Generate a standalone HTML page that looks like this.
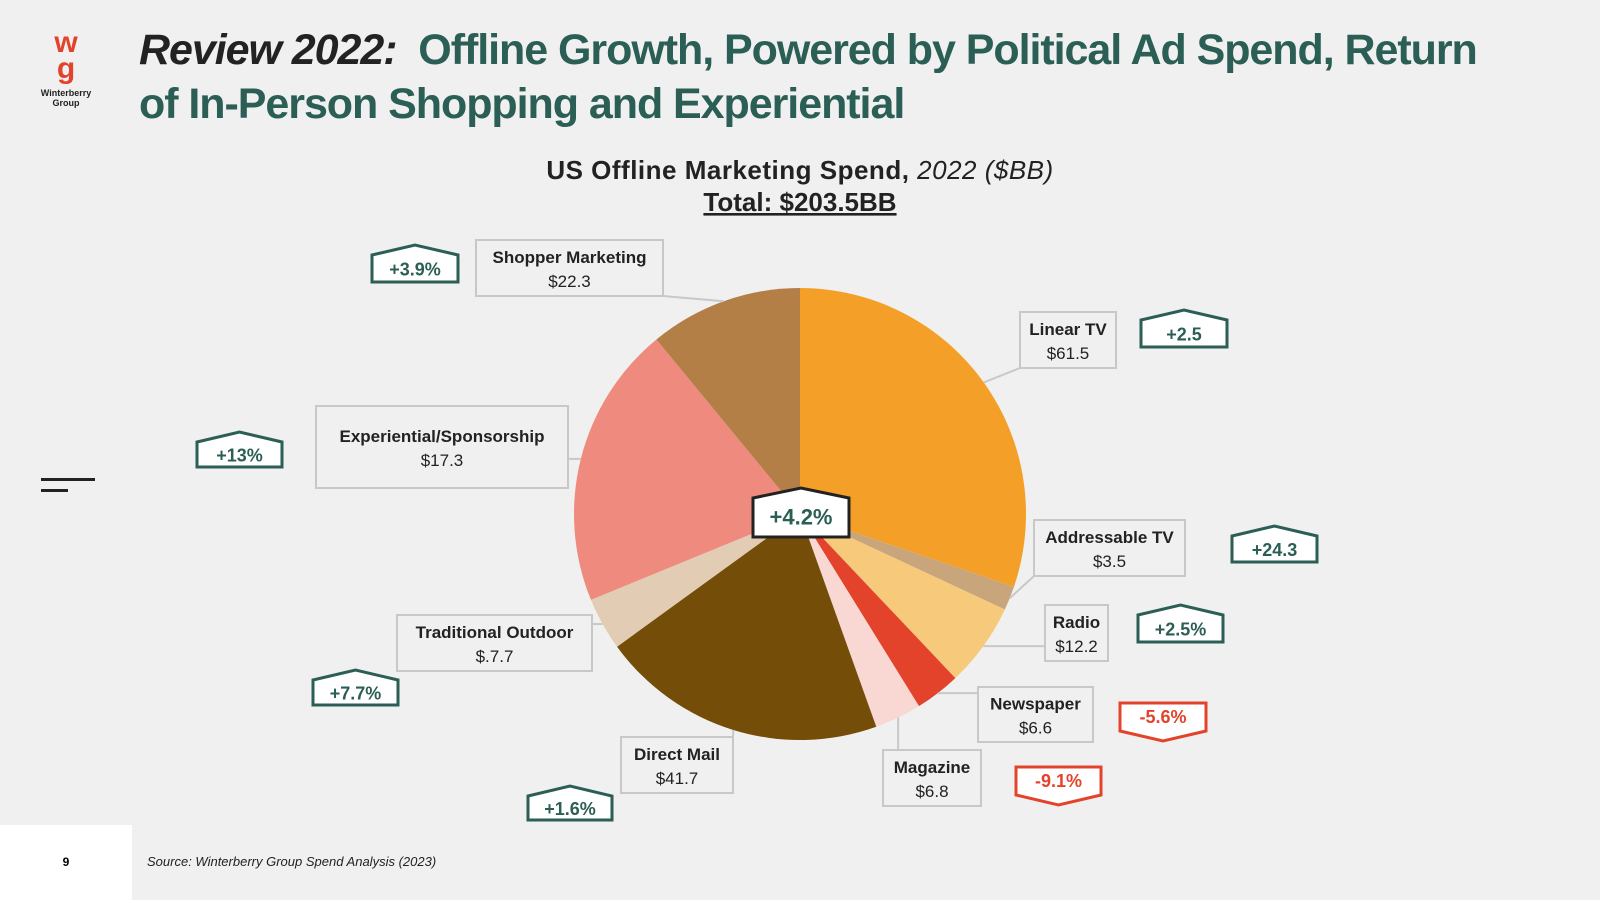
<!DOCTYPE html>
<html><head><meta charset="utf-8"><style>
body{margin:0;width:1600px;height:900px;background:#f0f0f0;overflow:hidden;font-family:"Liberation Sans",sans-serif;position:relative}
.t{position:absolute;left:139px;font-weight:bold;font-size:43px;letter-spacing:-1.05px;color:#2b5e55;white-space:nowrap}
</style></head><body>
<div style="position:absolute;left:36px;top:30px;width:60px;text-align:center">
<div style="color:#e3432b;font-weight:bold;font-size:30px;line-height:26px">w<br>g</div>
<div style="font-size:9px;font-weight:bold;color:#222;line-height:10px;margin-top:6px">Winterberry<br>Group</div></div>
<div class="t" style="top:26px"><span style="color:#222;font-style:italic">Review 2022:</span>&nbsp; Offline Growth, Powered by Political Ad Spend, Return</div>
<div class="t" style="top:80px">of In-Person Shopping and Experiential</div>
<div style="position:absolute;left:41px;top:478px;width:54px;height:3px;background:#222"></div>
<div style="position:absolute;left:41px;top:489px;width:27px;height:3px;background:#222"></div>
<div style="position:absolute;left:0;top:825px;width:132px;height:75px;background:#fff;font-size:12px;font-weight:bold;text-align:center;line-height:75px">9</div>
<div style="position:absolute;left:147px;top:854px;font-size:13px;font-style:italic;color:#222">Source: Winterberry Group Spend Analysis (2023)</div>
<svg id="chart" width="1600" height="900" style="position:absolute;left:0;top:0">
<text x="800" y="179" text-anchor="middle" font-size="26" letter-spacing="0.5" fill="#222"><tspan font-weight="bold">US Offline Marketing Spend,</tspan><tspan font-style="italic"> 2022 ($BB)</tspan></text>
<text x="800" y="211" text-anchor="middle" font-size="26" font-weight="bold" fill="#222" text-decoration="underline">Total: $203.5BB</text>
</svg>
<script>
const categories=["Linear TV","Addressable TV","Radio","Newspaper","Magazine","Direct Mail","Traditional Outdoor","Experiential/Sponsorship","Shopper Marketing"];
const pieValues=[61.5,3.5,12.2,6.6,6.8,41.7,7.7,41.2,22.3];
const valueLabels=["$61.5","$3.5","$12.2","$6.6","$6.8","$41.7","$.7.7","$17.3","$22.3"];
const growthLabels=["+2.5","+24.3","+2.5%","-5.6%","-9.1%","+1.6%","+7.7%","+13%","+3.9%"];
const totalValue=203.5;
const totalGrowth="+4.2%";
const colors=["#f4a028","#c9a57c","#f7c97a","#e3432b","#f9d7d2","#744d08","#e2cdb4","#ee8b7e","#b37f46"];
const boxes=[[1020,312,96,56],[1034,520,151,56],[1045,605,63,56],[978,687,115,55],[883,750,98,56],[621,737,112,56],[397,615,195,56],[316,406,252,82],[476,240,187,56]];
const badges=[[1141,310,86,37],[1232,526,85,36],[1138,605,85,37],[1120,703,86,38],[1016,767,85,38],[528,786,84,34],[313,670,85,35],[197,432,85,35],[372,245,86,37]];
const svg=document.getElementById('chart');const NS='http://www.w3.org/2000/svg';
const cx=800,cy=514,R=226;
function ang(v){return v/totalValue*2*Math.PI;}
function pt(a,r){return [cx+r*Math.sin(a),cy-r*Math.cos(a)];}
function mk(t,attrs){const e=document.createElementNS(NS,t);for(const k in attrs)e.setAttribute(k,attrs[k]);svg.appendChild(e);return e;}
let a0=0;const mids=[];
pieValues.forEach((v,i)=>{const a1=a0+ang(v);const p0=pt(a0,R),p1=pt(a1,R);const large=(a1-a0)>Math.PI?1:0;
const p=mk('path',{d:`M${cx},${cy}L${p0[0]},${p0[1]}A${R},${R} 0 ${large} 1 ${p1[0]},${p1[1]}Z`,fill:colors[i]});


mids.push((a0+a1)/2);a0=a1;});
boxes.forEach((b,i)=>{const [x,y,w,h]=b;const e=pt(mids[i],R);
const bx=Math.max(x,Math.min(x+w,e[0])),by=Math.max(y,Math.min(y+h,e[1]));
const l=mk('line',{x1:bx,y1:by,x2:e[0],y2:e[1],stroke:'#c8c8c8','stroke-width':2});


const r=mk('rect',{x:x,y:y,width:w,height:h,fill:'#f0f0f0',stroke:'#c8c8c8','stroke-width':2});


const t1=mk('text',{x:x+w/2,y:y+h/2-5,'text-anchor':'middle','font-size':17,'font-weight':'bold',fill:'#222'});t1.textContent=categories[i];


const t2=mk('text',{x:x+w/2,y:y+h/2+19,'text-anchor':'middle','font-size':17,fill:'#222'});t2.textContent=valueLabels[i];

});
function badge(x,y,w,h,label,down,big){const col=down?'#e3432b':'#2b5e55';const rf=10;
const d=down?`M${x},${y}H${x+w}V${y+h-rf}L${x+w/2},${y+h}L${x},${y+h-rf}Z`:`M${x},${y+rf}L${x+w/2},${y}L${x+w},${y+rf}V${y+h}H${x}Z`;
const p=mk('path',{d:d,fill:'#fff',stroke:big?'#222':col,'stroke-width':3});


const t=mk('text',{x:x+w/2,y:down?y+h/2+1:y+h/2+12,'text-anchor':'middle','font-size':big?22:18,'font-weight':'bold',fill:col});t.textContent=label;

}
badges.forEach((b,i)=>badge(b[0],b[1],b[2],b[3],growthLabels[i],growthLabels[i][0]==='-',false));
badge(753,488,96,49,totalGrowth,false,true);
</script>
</body></html>
